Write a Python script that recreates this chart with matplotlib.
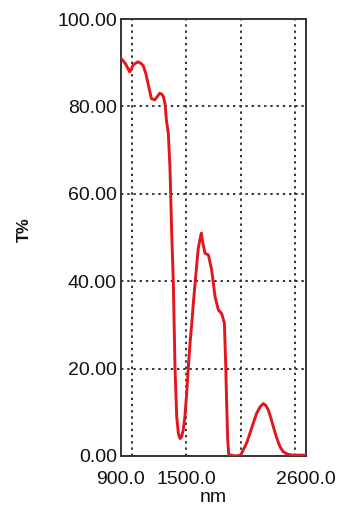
import matplotlib
matplotlib.use("Agg")
import matplotlib.pyplot as plt

plt.rcParams['font.family'] = ['Liberation Sans', 'DejaVu Sans']

# spectrum
wavelength = [900, 940, 980, 1015, 1056, 1080, 1102, 1125, 1148, 1179, 1210, 1235, 1256, 1275,
              1290, 1305, 1317, 1335, 1350, 1366, 1381, 1396, 1412, 1427, 1442, 1457, 1472,
              1488, 1504, 1519, 1535, 1550, 1565, 1580, 1595, 1610, 1625, 1638, 1650, 1672,
              1703, 1733, 1764, 1795, 1825, 1850, 1862, 1871, 1880, 1890, 1950, 2000, 2024,
              2055, 2085, 2115, 2147, 2180, 2208, 2230, 2254, 2277, 2300, 2330, 2361, 2390,
              2423, 2470, 2600]
transmit = [91, 89.8, 87.9, 89.6, 90.2, 89.9, 89.4, 87.8, 85.3, 81.8, 81.5, 82.3, 83, 82.8,
            82.2, 80.5, 76.9, 73.8, 66, 51, 39.6, 20.4, 9, 5.2, 4, 4.4, 6,
            9.2, 14.5, 20.5, 26, 30.3, 35, 39.3, 43.5, 47.5, 49.5, 51, 49, 46.4,
            46, 42.6, 36.5, 33.4, 32.6, 30.4, 21.2, 12, 4, 0.3, 0, 0.2, 1.4,
            3, 5.2, 7.5, 9.8, 11.3, 12, 11.6, 10.5, 8.7, 6.7, 4.2, 2.1, 1.0,
            0.5, 0.2, 0.2]

x_ticks = [900, 1500, 2600]
x_tick_labels = ["900.0", "1500.0", "2600.0"]
x_grid = [1000, 1500, 2000, 2500]
y_ticks = [0, 20, 40, 60, 80, 100]

fig = plt.figure(figsize=(3.38, 5.07), dpi=100)
ax = fig.add_axes([121/338, 1-456/507, 185/338, 437/507])

ax.plot(wavelength, transmit, color='#e3161d', lw=2.1, solid_joinstyle='round', zorder=3)

ax.set_xlim(900, 2600)
ax.set_ylim(0, 100)
ax.set_xticks(x_ticks)
ax.set_xticklabels(x_tick_labels, fontsize=14)
ax.set_yticks(y_ticks)
ax.set_yticklabels([f"{v:.2f}" for v in y_ticks], fontsize=14)
ax.tick_params(axis='both', length=0, colors='#111111')
ax.tick_params(axis='y', pad=3)
ax.tick_params(axis='x', pad=11)

for gx in x_grid:
    ax.axvline(gx, color='#333333', ls=(0, (1.2, 2.0)), lw=1.4, zorder=1)
for gy in y_ticks[1:-1]:
    ax.axhline(gy, color='#333333', ls=(0, (1.2, 2.0)), lw=1.4, zorder=1)

for s in ax.spines.values():
    s.set_color('#333333')
    s.set_linewidth(1.4)

fig.text(213/338, 1-498/507, "nm", fontsize=14, ha='center', va='center', color='#111111')
fig.text(24/338, 1-230/507, "T%", fontsize=12, fontweight='bold', rotation=90,
         ha='center', va='center', color='#111111')

plt.savefig('out.png', dpi=100, facecolor='white')
